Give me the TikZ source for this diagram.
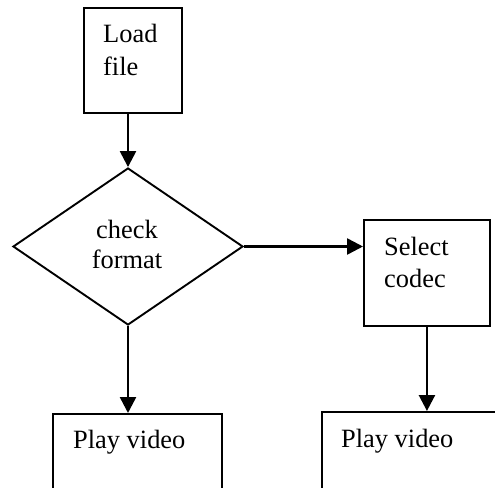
\documentclass[tikz,border=0pt]{standalone}
\usepackage{fontspec}
\setmainfont{Liberation Serif}
\usetikzlibrary{shapes.geometric,arrows.meta}
\begin{document}
\begin{tikzpicture}[x=1pt,y=-1pt,
  box/.style={draw,line width=1.9pt,inner sep=0pt,anchor=north west},
  decision/.style={draw,diamond,line width=1.9pt,inner sep=0pt,
    minimum width=230pt,minimum height=157pt},
  txt/.style={font=\fontsize{26.4}{30}\selectfont,inner sep=0pt,anchor=base west},
  ctxt/.style={font=\fontsize{26.4}{30}\selectfont,inner sep=0pt,anchor=base},
  flow/.style={line width=2.5pt,-{Triangle[length=16pt,width=16pt]}}]
\useasboundingbox (0,0) rectangle (495,487);
\clip (0,0) rectangle (495,487);
% boxes
\node[box,minimum width=98pt,minimum height=105pt] (load) at (83,7) {};
\node[decision] (check) at (128,246.5) {};
\node[box,minimum width=126pt,minimum height=106pt] (codec) at (363,219) {};
\node[box,minimum width=169pt,minimum height=100pt] (playA) at (52,413) {};
\node[box,minimum width=200pt,minimum height=100pt] (playB) at (321,411) {};
% labels
\node[txt] (t1) at (103,43) {Load};
\node[txt] (t2) at (103,75) {file};
\node[ctxt] (t3) at (127,238) {check};
\node[ctxt] (t4) at (127,268) {format};
\node[txt] (t5) at (384,255) {Select};
\node[txt] (t6) at (384,287) {codec};
\node[txt] (t7) at (73,448) {Play video};
\node[txt] (t8) at (341,447) {Play video};
% connectors
\draw[flow] (check.north |- load.south) -- (check.north);
\draw[flow] (check.east) -- (check.east -| codec.west);
\draw[flow] (check.south) -- (check.south |- playA.north);
\draw[flow] (codec.south) -- (codec.south |- playB.north);
\end{tikzpicture}
\end{document}
